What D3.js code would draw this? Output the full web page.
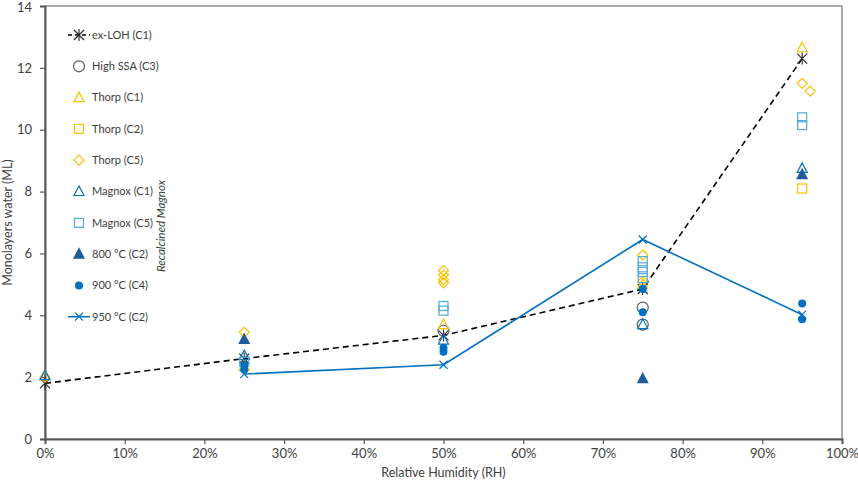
<!DOCTYPE html>
<html>
<head>
<meta charset="utf-8">
<script src="https://cdn.jsdelivr.net/npm/d3@7"></script>
<style>
  body { margin: 0; background: #fff; }
  text { font-family: Lato, "Open Sans", sans-serif; fill: #404040; }
</style>
</head>
<body>
<div id="chart"></div>
<script>
// values: [relative humidity, monolayers]
const xTicks = [0, 0.1, 0.2, 0.3, 0.4, 0.5, 0.6, 0.7, 0.8, 0.9, 1.0];
const yTicks = [0, 2, 4, 6, 8, 10, 12, 14];

const exLOH = [[0, 1.8], [0.25, 2.6], [0.5, 3.35], [0.75, 4.85], [0.95, 12.3]];
const highSSA = [[0.5, 3.5], [0.75, 4.25], [0.75, 3.7]];
const thorpC1 = [[0, 2.05], [0.25, 2.35], [0.5, 3.7], [0.75, 5.0], [0.95, 12.65]];
const thorpC2 = [[0.95, 8.1]];
const thorpC5 = [[0, 2.0], [0.25, 3.45], [0.5, 5.45], [0.5, 5.3], [0.5, 5.15], [0.5, 5.05],
                 [0.75, 5.95], [0.75, 5.1], [0.95, 11.5], [0.96, 11.25]];
const magnoxC1 = [[0, 2.05], [0.25, 2.7], [0.5, 3.2], [0.75, 3.7], [0.95, 8.75]];
const magnoxC5 = [[0.25, 2.5], [0.5, 4.3], [0.5, 4.15], [0.75, 5.75], [0.75, 5.55],
                  [0.75, 5.4], [0.75, 5.2], [0.95, 10.4], [0.95, 10.15]];
const c800 = [[0.25, 3.22], [0.75, 1.95], [0.95, 8.55]];
const c900 = [[0.25, 2.4], [0.25, 2.25], [0.5, 2.95], [0.5, 2.82], [0.75, 4.85],
              [0.75, 4.1], [0.95, 4.38], [0.95, 3.87]];
const c950 = [[0.25, 2.1], [0.5, 2.4], [0.75, 6.45], [0.95, 4.02]];

const W = 858, H = 483;
const x = d3.scaleLinear().domain([0, 1]).range([45, 842]);
const y = d3.scaleLinear().domain([0, 14]).range([439, 6]);

const svg = d3.select("#chart").append("svg")
  .attr("width", W).attr("height", H);

// frame around plot area
svg.append("rect")
  .attr("x", x(0)).attr("y", y(14))
  .attr("width", x(1) - x(0)).attr("height", y(0) - y(14))
  .style("fill", "none").style("stroke", "#595959").style("stroke-width", 1);

// axes
const xAxis = svg.append("g")
  .attr("transform", "translate(0," + y(0) + ")")
  .call(d3.axisBottom(x).tickValues(xTicks).tickFormat(d3.format(".0%")).tickSize(5).tickPadding(5));
const yAxis = svg.append("g")
  .attr("transform", "translate(" + x(0) + ",0)")
  .call(d3.axisLeft(y).tickValues(yTicks).tickSize(5).tickPadding(8));
[xAxis, yAxis].forEach(g => {
  g.select(".domain").style("stroke", "#595959").style("stroke-width", 2);
  g.selectAll(".tick line").style("stroke", "#595959").style("stroke-width", 1.2);
  g.selectAll(".tick text").style("font-size", "13px").style("fill", "#404040")
    .style("font-family", "Lato, sans-serif");
});
// keep the top label inside the picture
yAxis.selectAll(".tick text").filter(d => d === 14).attr("dy", "0.45em");

svg.append("text")
  .attr("x", (x(0) + x(1)) / 2).attr("y", 477)
  .attr("text-anchor", "middle").style("font-size", "12.5px")
  .text("Relative Humidity (RH)");
svg.append("text")
  .attr("transform", "translate(12," + ((y(0) + y(14)) / 2) + ") rotate(-90)")
  .attr("text-anchor", "middle").style("font-size", "12.5px")
  .text("Monolayers water (ML)");

svg.append("text")
  .attr("transform", "translate(165,226) rotate(-90)")
  .attr("text-anchor", "middle").style("font-size", "11.5px").style("font-style", "italic")
  .text("Recalcined Magnox");

// marker drawing helpers
const orange = "#FFC000", blue = "#0070C0", light = "#4FA9E0", navy = "#1F5C99", grey = "#595959";

function marker(g, kind, color) {
  if (kind === "circle") {
    g.append("circle").attr("r", 5.5).style("fill", "none").style("stroke", color).style("stroke-width", 1.2);
  } else if (kind === "dot") {
    g.append("circle").attr("r", 4).style("fill", color);
  } else if (kind === "tri" || kind === "filltri") {
    g.append("path").attr("d", "M0,-5.5L5,4L-5,4Z")
      .style("fill", kind === "filltri" ? color : "none")
      .style("stroke", color).style("stroke-width", 1.2);
  } else if (kind === "square") {
    g.append("rect").attr("x", -4.5).attr("y", -4.5).attr("width", 9).attr("height", 9)
      .style("fill", "none").style("stroke", color).style("stroke-width", 1.2);
  } else if (kind === "diamond") {
    g.append("path").attr("d", "M0,-5L5,0L0,5L-5,0Z")
      .style("fill", "none").style("stroke", color).style("stroke-width", 1.2);
  } else if (kind === "x") {
    g.append("path").attr("d", "M-4,-4L4,4M-4,4L4,-4")
      .style("stroke", color).style("stroke-width", 1.2);
  } else if (kind === "star") {
    g.append("path").attr("d", "M-5,-5L5,5M-5,5L5,-5M0,-6L0,6")
      .style("stroke", color).style("stroke-width", 1.1);
  }
}

const line = d3.line().x(d => x(d[0])).y(d => y(d[1]));

const series = [
  { name: "ex-LOH (C1)", data: exLOH, kind: "star", color: "#262626", line: "dash" },
  { name: "High SSA (C3)", data: highSSA, kind: "circle", color: grey },
  { name: "Thorp (C1)", data: thorpC1, kind: "tri", color: orange },
  { name: "Thorp (C2)", data: thorpC2, kind: "square", color: orange },
  { name: "Thorp (C5)", data: thorpC5, kind: "diamond", color: orange },
  { name: "Magnox (C1)", data: magnoxC1, kind: "tri", color: blue },
  { name: "Magnox (C5)", data: magnoxC5, kind: "square", color: light },
  { name: "800 °C (C2)", data: c800, kind: "filltri", color: navy },
  { name: "900 °C (C4)", data: c900, kind: "dot", color: blue },
  { name: "950 °C (C2)", data: c950, kind: "x", color: blue, line: "solid" }
];

series.forEach(s => {
  if (s.line) {
    svg.append("path").datum(s.data).attr("d", line)
      .style("fill", "none").style("stroke", s.line === "dash" ? "#000" : blue)
      .style("stroke-width", 1.6)
      .style("stroke-dasharray", s.line === "dash" ? "6,4" : null);
  }
  svg.append("g").selectAll("g").data(s.data).enter().append("g")
    .attr("transform", d => "translate(" + x(d[0]) + "," + y(d[1]) + ")")
    .each(function () { marker(d3.select(this), s.kind, s.color); });
});

// legend
const legend = svg.append("g");
series.forEach((s, i) => {
  const row = legend.append("g").attr("transform", "translate(79," + (35 + i * 31.3) + ")");
  if (s.line) {
    row.append("line").attr("x1", -11).attr("x2", 11)
      .style("stroke", s.line === "dash" ? "#000" : blue).style("stroke-width", 1.6)
      .style("stroke-dasharray", s.line === "dash" ? "4,3" : null);
  }
  marker(row, s.kind, s.color);
  row.append("text").attr("x", 13).attr("dy", "0.35em")
    .style("font-size", "11px").text(s.name);
});
</script>
</body>
</html>
